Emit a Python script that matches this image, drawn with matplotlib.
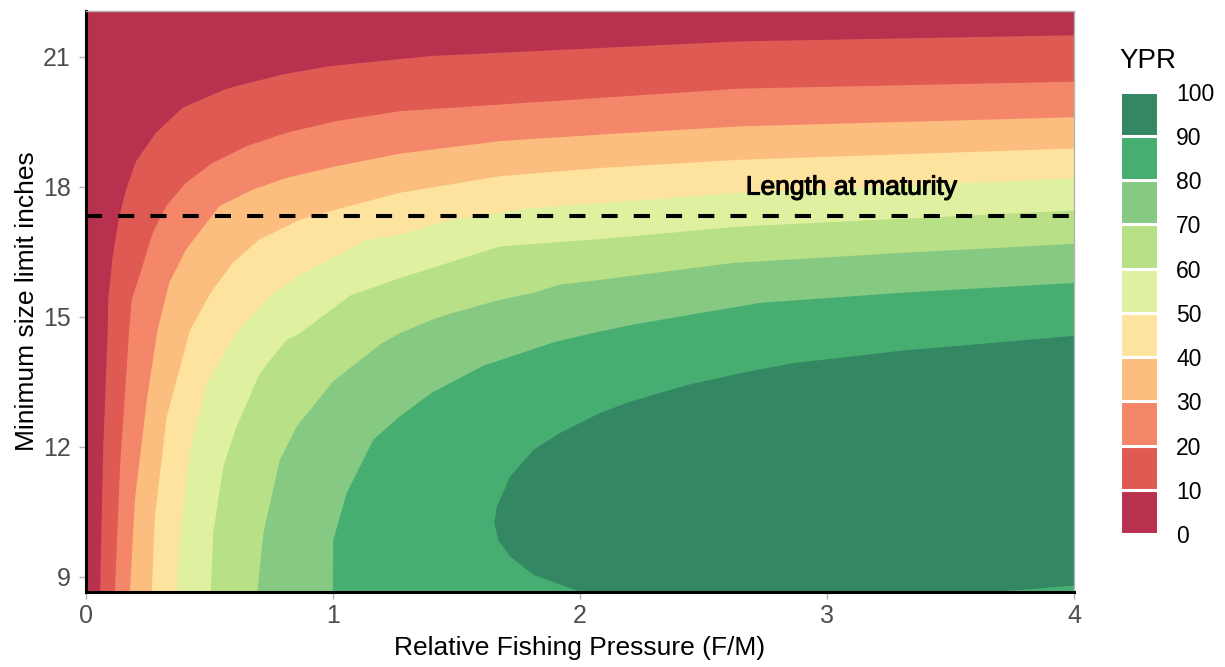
import matplotlib.pyplot as plt
import matplotlib.patheffects as pe

plt.rcParams['font.family'] = ['Liberation Sans', 'DejaVu Sans']

# YPR bands (legend) and their fills, lowest band first
levels = [0, 10, 20, 30, 40, 50, 60, 70, 80, 90, 100]
band_colors = ['#B8324F', '#DF5A52', '#F4876A', '#FCBE7E', '#FEE39E',
               '#E0F0A1', '#B8E087', '#85C983', '#47AE72', '#348763']

# contour lines (x = F/M, y = size limit in inches),
# each running from the bottom of the panel to the right edge
c10_x = [0.057, 0.070, 0.088, 0.090, 0.108, 0.135, 0.162, 0.202, 0.283, 0.391, 0.560, 0.610, 0.799, 0.988, 1.393, 2.648, 4.0]
c10_y = [8.66, 12.01, 14.70, 15.39, 16.39, 17.32, 17.93, 18.58, 19.24, 19.82, 20.24, 20.32, 20.59, 20.78, 21.01, 21.35, 21.49]

c20_x = [0.117, 0.138, 0.175, 0.185, 0.216, 0.270, 0.324, 0.405, 0.513, 0.648, 0.810, 1.012, 1.271, 2.648, 4.0]
c20_y = [8.66, 11.55, 14.70, 15.39, 15.93, 16.93, 17.55, 18.09, 18.55, 18.93, 19.24, 19.51, 19.74, 20.26, 20.42]

c30_x = [0.178, 0.198, 0.246, 0.290, 0.320, 0.337, 0.405, 0.540, 0.675, 0.810, 1.012, 1.271, 1.676, 2.081, 2.648, 4.0]
c30_y = [8.66, 10.78, 13.08, 14.70, 15.39, 15.78, 16.55, 17.55, 17.93, 18.20, 18.47, 18.76, 19.05, 19.20, 19.39, 19.60]

c40_x = [0.266, 0.279, 0.327, 0.421, 0.489, 0.513, 0.594, 0.702, 0.810, 0.866, 1.012, 1.271, 1.676, 2.081, 2.648, 4.0]
c40_y = [8.66, 10.39, 12.70, 14.68, 15.39, 15.62, 16.24, 16.78, 17.08, 17.24, 17.47, 17.86, 18.24, 18.43, 18.62, 18.88]

c50_x = [0.367, 0.381, 0.421, 0.489, 0.615, 0.737, 0.866, 1.012, 1.136, 1.271, 1.474, 1.811, 2.081, 2.648, 4.0]
c50_y = [8.66, 10.01, 11.93, 13.47, 14.68, 15.44, 15.97, 16.39, 16.78, 16.89, 17.24, 17.51, 17.62, 17.86, 18.19]

c60_x = [0.505, 0.515, 0.556, 0.610, 0.704, 0.813, 0.866, 1.012, 1.069, 1.271, 1.676, 2.081, 2.648, 4.0]
c60_y = [8.66, 10.01, 11.55, 12.47, 13.70, 14.47, 14.62, 15.24, 15.49, 15.89, 16.62, 16.79, 17.08, 17.45]

c70_x = [0.694, 0.718, 0.785, 0.853, 1.001, 1.197, 1.271, 1.400, 1.474, 1.676, 1.811, 1.919, 2.081, 2.619, 3.296, 4.0]
c70_y = [8.66, 10.01, 11.70, 12.47, 13.51, 14.39, 14.62, 14.93, 15.07, 15.39, 15.55, 15.74, 15.85, 16.24, 16.47, 16.68]

c80_x = [0.999, 1.001, 1.055, 1.163, 1.263, 1.401, 1.609, 1.899, 2.081, 2.216, 2.729, 3.296, 4.0]
c80_y = [8.66, 9.85, 10.93, 12.16, 12.67, 13.25, 13.87, 14.42, 14.66, 14.82, 15.32, 15.55, 15.78]

# the top band is a closed region: top edge, nose, then along the bottom
c90_x = [4.0, 3.308, 2.864, 2.668, 2.437, 2.202, 2.081, 2.0, 1.919, 1.811, 1.717, 1.663, 1.653, 1.669, 1.717, 1.811, 2.0, 3.687, 4.0]
c90_y = [14.56, 14.22, 13.93, 13.72, 13.43, 13.04, 12.78, 12.55, 12.32, 11.93, 11.31, 10.62, 10.24, 9.85, 9.47, 9.05, 8.66, 8.66, 8.80]

maturity = 17.32

curves = [(c10_x, c10_y), (c20_x, c20_y), (c30_x, c30_y), (c40_x, c40_y),
          (c50_x, c50_y), (c60_x, c60_y), (c70_x, c70_y), (c80_x, c80_y)]

xmin, xmax = 0, 4
ymin, ymax = 8.66, 22.05

fig = plt.figure(figsize=(12.25, 6.67), dpi=100)
ax = fig.add_axes([86 / 1225, 1 - 591.7 / 667, 988 / 1225, 580.7 / 667])

ax.set_facecolor(band_colors[0])
for k, (cx, cy) in enumerate(curves, start=1):
    ax.fill(list(cx) + [xmax], list(cy) + [ymin], color=band_colors[k], lw=0)
ax.fill(c90_x, c90_y, color=band_colors[9], lw=0)

ax.axhline(maturity, color='black', lw=2.9, ls=(0, (4, 4)))
ax.text(3.1, 17.98, 'Length at maturity', ha='center', va='center', fontsize=19,
        path_effects=[pe.withStroke(linewidth=0.8, foreground='black')])

ax.set_xlim(xmin, xmax)
ax.set_ylim(ymin, ymax)
ax.set_xticks([0, 1, 2, 3, 4])
ax.set_yticks([9, 12, 15, 18, 21])
ax.tick_params(color='#B3B3B3', length=5, width=1, labelcolor='#4D4D4D', labelsize=18)
ax.tick_params(axis='y', pad=6)
for s in ['left', 'bottom']:
    ax.spines[s].set_color('black')
    ax.spines[s].set_linewidth(2.2)
for s in ['top', 'right']:
    ax.spines[s].set_color('#B3B3B3')
    ax.spines[s].set_linewidth(1)
ax.set_xlabel('Relative Fishing Pressure (F/M)', fontsize=19, labelpad=6)
ax.set_ylabel('Minimum size limit inches', fontsize=19, labelpad=3)

# legend as a stack of keys
lax = fig.add_axes([1120 / 1225, 1 - 534 / 667, 38 / 1225, 442.3 / 667])
lax.bar(0.5, 10, bottom=levels[:-1], width=1, color=band_colors, edgecolor='white', linewidth=2.2)
lax.set_xlim(0, 1)
lax.set_ylim(0, 100)
for s in lax.spines.values():
    s.set_visible(False)
lax.set_xticks([])
lax.yaxis.tick_right()
lax.set_yticks(levels)
lax.tick_params(axis='y', length=0, pad=13, labelsize=16.5, labelcolor='black')
fig.text(1119 / 1225, 1 - 61 / 667, 'YPR', fontsize=20, ha='left', va='center')

fig.savefig('out.png', dpi=100)
